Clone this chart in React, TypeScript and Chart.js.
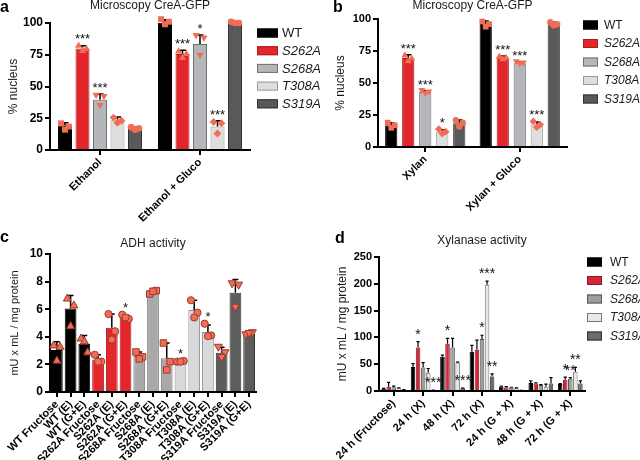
import React, { useEffect, useRef } from "react";
import { Chart, registerables } from "chart.js";

Chart.register(...registerables);
Chart.defaults.font.family = "'Liberation Sans', Arial, Helvetica, sans-serif";
Chart.defaults.color = "#000";

// ---------------- shared
const GENOTYPES = ["WT", "S262A", "S268A", "T308A", "S319A"];
const LEGEND_ITALIC = [false, true, true, true, true];

// ---------------- panel a
const A_CATEGORIES = ["Ethanol", "Ethanol + Gluco"];
const A_MEANS = [
  [19, 100.5],
  [80, 75.5],
  [39.5, 83.5],
  [23.5, 18.5],
  [17, 99.8],
];
const A_SD = [
  [2.5, 2],
  [2, 3],
  [4.5, 7],
  [2.5, 4.5],
  [1, 1],
];
const A_REPS = [
  [[21, 18.5, 16], [103, 101, 99]],
  [[82.5, 80, 78.5], [78, 76, 73]],
  [[43, 42, 35], [90, 88, 74.5]],
  [[25.5, 23, 21.5], [22, 21, 13]],
  [[18, 17, 16], [101, 100, 100]],
];
const A_STARS = [
  ["", ""],
  ["***", "***"],
  ["***", "*"],
  ["", "***"],
  ["", ""],
];

// ---------------- panel b
const B_CATEGORIES = ["Xylan", "Xylan + Gluco"];
const B_MEANS = [
  [17, 96],
  [69.5, 70],
  [43, 65.5],
  [12, 17.5],
  [18.5, 96],
];
const B_SD = [
  [2, 2.5],
  [2.5, 1],
  [1, 1],
  [1.5, 2],
  [2.5, 1.5],
];
const B_REPS = [
  [[19, 17, 15], [98, 96, 94]],
  [[72, 69.5, 67.5], [71, 70, 69]],
  [[44, 43, 42], [66.5, 65.5, 65]],
  [[14, 12, 10.5], [20, 17.5, 15.5]],
  [[21, 19, 16], [97.5, 96, 95]],
];
const B_STARS = [
  ["", ""],
  ["***", "***"],
  ["***", "***"],
  ["*", "***"],
  ["", ""],
];

// ---------------- panel c
const C_LABELS = [
  "WT Fructose", "WT (E)", "WT (G+E)",
  "S262A Fructose", "S262A (E)", "S262A (G+E)",
  "S268A Fructose", "S268A (E)", "S268A (G+E)",
  "T308A Fructose", "T308A (E)", "T308A (G+E)",
  "S319A Fructose", "S319A (E)", "S319A (G+E)",
];
const C_MEANS = [3.05, 6.05, 3.5, 2.35, 4.65, 5.45, 2.6, 7.3, 2.45, 2.2, 5.95, 4.35, 2.85, 7.2, 4.25];
const C_SD = [0.6, 0.95, 0.6, 0.35, 1.0, 0.15, 0.3, 0.15, 1.1, 0.05, 0.7, 0.5, 0.4, 0.95, 0.1];
const C_REPS = [
  [3.4, 3.3, 2.3], [6.8, 6.3, 4.8], [3.9, 2.9, 3.7],
  [2.7, 2.2, 2.2], [5.65, 4.4, 3.8], [5.6, 5.3, 5.4],
  [2.9, 2.55, 2.4], [7.1, 7.35, 7.3], [3.55, 2.2, 1.6],
  [2.2, 2.25, 2.2], [6.65, 5.75, 5.4], [4.95, 4.1, 4.05],
  [3.25, 2.85, 2.5], [7.85, 7.75, 6.15], [4.15, 4.3, 4.25],
];
const C_STARS = ["", "", "", "", "", "*", "", "", "", "*", "", "*", "", "", ""];

// ---------------- panel d
const D_CATEGORIES = ["24 h (Fructose)", "24 h (X)", "48 h (X)", "72 h (X)", "24 h (G + X)", "48 h (G + X)", "72 h (G + X)"];
const D_MEANS = [
  [4, 45, 64, 73, 8, 15, 13],
  [8, 81, 88, 77, 7, 14, 21],
  [7, 44, 81, 97, 6, 11, 23],
  [5, 34, 53, 198, 5, 8, 36],
  [2, 1, 5, 27, 1, 14, 14],
];
const D_SD = [
  [1, 6, 3, 12, 1, 4, 1],
  [8, 11, 10, 18, 1, 1, 5],
  [2, 9, 17, 7, 1, 1, 2],
  [1, 8, 1, 7, 1, 5, 8],
  [0.5, 0.5, 0.5, 5, 0.3, 11, 5],
];
const D_STARS = [
  ["", "", "", "", "", "", ""],
  ["", "*", "*", "", "", "", "*"],
  ["", "", "", "*", "", "", "**"],
  ["", "", "", "***", "", "", "**"],
  ["", "***", "***", "**", "", "", ""],
];

// ---------------- styles
const AB_COLORS = ["#000000", "#e3262b", "#b5b6b9", "#dedede", "#58595b"];
const AB_BORDERS = ["#000000", "#a81c20", "#6f7073", "#9a9a9a", "#333333"];
const C_COLORS = ["#000000", "#e3262b", "#a9a9a9", "#d7d9db", "#5d5d5d"];
const C_BORDERS = ["#000000", "#a81c20", "#777777", "#8e8e8e", "#333333"];
const D_COLORS = ["#000000", "#d3263b", "#9d9d9d", "#e8e8e8", "#6b6b6b"];
const D_BORDERS = ["#000000", "#8a1a26", "#555555", "#777777", "#333333"];
const AB_SHAPES = ["rect", "triangle", "invtriangle", "diamond", "circle"];
const C_SHAPES = ["triangle", "circle", "rect", "circle", "invtriangle"];
const POINT_FILL = "#f26d55";

type LegendCfg = {
  x: number; y: number; gap: number; boxW: number; boxH: number; textX: number; size: number;
  colors: string[]; borders: string[];
};
type DecorCfg = {
  label: string; labelX: number; labelY: number;
  sd: number[][];
  reps?: number[][][];
  shape?: (d: number, i: number) => string;
  stars: string[][];
  starSize: number;
  starGap: number;
  errWidth: number;
  capFrac: number;
  pointR: number;
  pointStroke?: string;
  jitter: number[];
  legend?: LegendCfg;
};

function drawShape(ctx: CanvasRenderingContext2D, shape: string, x: number, y: number, r: number) {
  ctx.beginPath();
  if (shape === "circle") {
    ctx.arc(x, y, r, 0, Math.PI * 2);
  } else if (shape === "rect") {
    ctx.rect(x - r * 0.9, y - r * 0.9, r * 1.8, r * 1.8);
  } else if (shape === "triangle") {
    ctx.moveTo(x, y - r * 1.15);
    ctx.lineTo(x + r * 1.1, y + r * 0.8);
    ctx.lineTo(x - r * 1.1, y + r * 0.8);
    ctx.closePath();
  } else if (shape === "invtriangle") {
    ctx.moveTo(x, y + r * 1.15);
    ctx.lineTo(x + r * 1.1, y - r * 0.8);
    ctx.lineTo(x - r * 1.1, y - r * 0.8);
    ctx.closePath();
  } else {
    ctx.moveTo(x, y - r * 1.2);
    ctx.lineTo(x + r * 1.2, y);
    ctx.lineTo(x, y + r * 1.2);
    ctx.lineTo(x - r * 1.2, y);
    ctx.closePath();
  }
}

function makeDecor(cfg: DecorCfg) {
  return {
    id: "decor",
    afterDatasetsDraw(chart: any) {
      const ctx: CanvasRenderingContext2D = chart.ctx;
      const ys = chart.scales.y;
      ctx.save();
      chart.data.datasets.forEach((ds: any, d: number) => {
        const meta = chart.getDatasetMeta(d);
        meta.data.forEach((bar: any, i: number) => {
          const mean = ds.data[i];
          const sd = cfg.sd[d][i];
          const cx = bar.x;
          const w = bar.width;
          const top = ys.getPixelForValue(mean);
          const yErr = ys.getPixelForValue(mean + sd);
          if (sd > 0) {
            ctx.strokeStyle = "#000";
            ctx.lineWidth = cfg.errWidth;
            ctx.beginPath();
            ctx.moveTo(cx, top);
            ctx.lineTo(cx, yErr);
            ctx.moveTo(cx - (w * cfg.capFrac) / 2, yErr);
            ctx.lineTo(cx + (w * cfg.capFrac) / 2, yErr);
            ctx.stroke();
          }
          if (cfg.reps && cfg.shape) {
            const reps = cfg.reps[d][i];
            const shape = cfg.shape(d, i);
            reps.forEach((v, k) => {
              const px = cx + cfg.jitter[k % cfg.jitter.length] * w;
              const py = ys.getPixelForValue(v);
              drawShape(ctx, shape, px, py, cfg.pointR);
              ctx.fillStyle = POINT_FILL;
              ctx.fill();
              if (cfg.pointStroke) {
                ctx.strokeStyle = cfg.pointStroke;
                ctx.lineWidth = 1;
                ctx.stroke();
              }
            });
          }
        });
      });
      chart.data.datasets.forEach((ds: any, d: number) => {
        const meta = chart.getDatasetMeta(d);
        meta.data.forEach((bar: any, i: number) => {
          const s = cfg.stars[d][i];
          if (!s) return;
          const mean = ds.data[i];
          const sd = cfg.sd[d][i];
          let topVal = mean + sd;
          if (cfg.reps) topVal = Math.max(topVal, ...cfg.reps[d][i]);
          const yTop = ys.getPixelForValue(topVal);
          ctx.fillStyle = "#111";
          ctx.font = `${cfg.starSize}px 'Liberation Sans', Arial, sans-serif`;
          ctx.textAlign = "center";
          ctx.textBaseline = "alphabetic";
          ctx.fillText(s, bar.x, yTop - cfg.starGap);
        });
      });
      ctx.restore();
    },
    afterDraw(chart: any) {
      const ctx: CanvasRenderingContext2D = chart.ctx;
      ctx.save();
      ctx.fillStyle = "#000";
      ctx.font = "bold 16px 'Liberation Sans', Arial, sans-serif";
      ctx.textAlign = "left";
      ctx.textBaseline = "alphabetic";
      ctx.fillText(cfg.label, cfg.labelX, cfg.labelY);
      const L = cfg.legend;
      if (L) {
        GENOTYPES.forEach((g, k) => {
          const y = L.y + k * L.gap;
          ctx.fillStyle = L.colors[k];
          ctx.fillRect(L.x, y - L.boxH / 2, L.boxW, L.boxH);
          ctx.strokeStyle = L.borders[k];
          ctx.lineWidth = 1;
          ctx.strokeRect(L.x + 0.5, y - L.boxH / 2 + 0.5, L.boxW - 1, L.boxH - 1);
          ctx.fillStyle = "#1a1a1a";
          ctx.font = `${LEGEND_ITALIC[k] ? "italic " : ""}${L.size}px 'Liberation Sans', Arial, sans-serif`;
          ctx.textBaseline = "middle";
          ctx.fillText(g, L.textX, y + 0.5);
        });
      }
      ctx.restore();
    },
  };
}

function yScale(max: number, step: number, title: string, width: number, titlePad: number, tickSize: number, titleSize: number) {
  return {
    min: 0,
    max,
    ticks: { stepSize: step, font: { size: tickSize, weight: "bold" }, color: "#000", padding: 2 },
    grid: { drawOnChartArea: false, drawTicks: true, tickLength: 5, color: "#000", lineWidth: 2 },
    border: { display: true, color: "#000", width: 2 },
    title: { display: true, text: title, font: { size: titleSize }, color: "#1a1a1a", padding: { top: titlePad, bottom: 0 } },
    afterFit: (s: any) => { s.width = width; },
  };
}

function xScale(height: number, fontSize: number) {
  return {
    offset: true,
    ticks: { autoSkip: false, minRotation: 45, maxRotation: 45, font: { size: fontSize, weight: "bold" }, color: "#000", padding: 1 },
    grid: { offset: false, drawOnChartArea: false, drawTicks: true, tickLength: 5, color: "#000", lineWidth: 2 },
    border: { display: true, color: "#000", width: 2 },
    afterFit: (s: any) => { s.height = height; },
  };
}

function titleOpt(text: string, top: number, bottom: number) {
  return {
    display: true,
    text,
    fullSize: false,
    color: "#1a1a1a",
    font: { size: 12, weight: "normal", lineHeight: 1 },
    padding: { top, bottom },
  };
}

const JITTER = [-0.28, 0.28, 0];

function buildA() {
  return {
    type: "bar",
    data: {
      labels: A_CATEGORIES,
      datasets: GENOTYPES.map((g, d) => ({
        label: g,
        data: A_MEANS[d],
        backgroundColor: AB_COLORS[d],
        borderColor: AB_BORDERS[d],
        borderWidth: 1,
        categoryPercentage: 0.875,
        barPercentage: 0.8,
      })),
    },
    options: {
      responsive: false,
      animation: false,
      layout: { padding: { left: 0, right: 70, top: 0, bottom: 0 } },
      plugins: {
        legend: { display: false },
        tooltip: { enabled: false },
        title: titleOpt("Microscopy CreA-GFP", 0, 11),
      },
      scales: {
        x: xScale(80, 11),
        y: yScale(100, 25, "% nucleus", 50, 6, 12, 12),
      },
    },
    plugins: [
      makeDecor({
        label: "a", labelX: 0, labelY: 12,
        sd: A_SD, reps: A_REPS, shape: (d) => AB_SHAPES[d], stars: A_STARS,
        starSize: 13, starGap: 2, errWidth: 1.5, capFrac: 0.5, pointR: 3.3, jitter: JITTER,
        legend: { x: 257, y: 33, gap: 17.7, boxW: 21, boxH: 9, textX: 282, size: 13, colors: AB_COLORS, borders: AB_BORDERS },
      }),
    ],
  };
}

function buildB() {
  return {
    type: "bar",
    data: {
      labels: B_CATEGORIES,
      datasets: GENOTYPES.map((g, d) => ({
        label: g,
        data: B_MEANS[d],
        backgroundColor: AB_COLORS[d],
        borderColor: AB_BORDERS[d],
        borderWidth: 1,
        categoryPercentage: 0.9,
        barPercentage: 0.72,
      })),
    },
    options: {
      responsive: false,
      animation: false,
      layout: { padding: { left: 0, right: 73, top: 0, bottom: 0 } },
      plugins: {
        legend: { display: false },
        tooltip: { enabled: false },
        title: titleOpt("Microscopy CreA-GFP", 0, 7),
      },
      scales: {
        x: xScale(83, 11),
        y: yScale(100, 25, "% nucleus", 58, 13, 11, 12),
      },
    },
    plugins: [
      makeDecor({
        label: "b", labelX: 13, labelY: 12,
        sd: B_SD, reps: B_REPS, shape: (d) => AB_SHAPES[d], stars: B_STARS,
        starSize: 13, starGap: 2, errWidth: 1.5, capFrac: 0.5, pointR: 3.2, jitter: JITTER,
        legend: { x: 263, y: 25, gap: 18.5, boxW: 15, boxH: 9, textX: 284, size: 12, colors: AB_COLORS, borders: AB_BORDERS },
      }),
    ],
  };
}

function buildC() {
  return {
    type: "bar",
    data: {
      labels: C_LABELS,
      datasets: [
        {
          label: "ADH activity",
          data: C_MEANS,
          backgroundColor: C_LABELS.map((_, i) => C_COLORS[Math.floor(i / 3)]),
          borderColor: C_LABELS.map((_, i) => C_BORDERS[Math.floor(i / 3)]),
          borderWidth: 1,
          categoryPercentage: 0.95,
          barPercentage: 0.9,
        },
      ],
    },
    options: {
      responsive: false,
      animation: false,
      layout: { padding: { left: 0, right: 64, top: 0, bottom: 0 } },
      plugins: {
        legend: { display: false },
        tooltip: { enabled: false },
        title: titleOpt("ADH activity", 8, 4),
      },
      scales: {
        x: xScale(68, 11),
        y: yScale(10, 2, "mU x mL / mg protein", 50, 8, 12, 11),
      },
    },
    plugins: [
      makeDecor({
        label: "c", labelX: 0, labelY: 12,
        sd: [C_SD], reps: [C_REPS], shape: (_d, i) => C_SHAPES[Math.floor(i / 3)], stars: [C_STARS],
        starSize: 13, starGap: 2.5, errWidth: 1.5, capFrac: 0.5, pointR: 3.6, pointStroke: "#9b3a2e", jitter: JITTER,
      }),
    ],
  };
}

function buildD() {
  return {
    type: "bar",
    data: {
      labels: D_CATEGORIES,
      datasets: GENOTYPES.map((g, d) => ({
        label: g,
        data: D_MEANS[d],
        backgroundColor: D_COLORS[d],
        borderColor: D_BORDERS[d],
        borderWidth: 1,
        categoryPercentage: 0.86,
        barPercentage: 0.9,
      })),
    },
    options: {
      responsive: false,
      animation: false,
      layout: { padding: { left: 0, right: 55, top: 0, bottom: 0 } },
      plugins: {
        legend: { display: false },
        tooltip: { enabled: false },
        title: titleOpt("Xylanase activity", 5, 10),
      },
      scales: {
        x: xScale(69, 11),
        y: yScale(250, 50, "mU x mL / mg protein", 59, 15, 11, 12),
      },
    },
    plugins: [
      makeDecor({
        label: "d", labelX: 15, labelY: 13,
        sd: D_SD, stars: D_STARS,
        starSize: 14, starGap: 3, errWidth: 1.2, capFrac: 0.7, pointR: 3, jitter: JITTER,
        legend: { x: 267, y: 32, gap: 18.5, boxW: 15, boxH: 9, textX: 290, size: 12, colors: D_COLORS, borders: D_BORDERS },
      }),
    ],
  };
}

function Panel({ left, top, build }: { left: number; top: number; build: () => any }) {
  const ref = useRef<HTMLCanvasElement>(null);
  useEffect(() => {
    const chart = new Chart(ref.current as HTMLCanvasElement, build());
    return () => chart.destroy();
  }, []);
  return (
    <canvas
      ref={ref}
      width={320}
      height={230}
      style={{ position: "absolute", left, top, width: 320, height: 230, display: "block" }}
    />
  );
}

export default function App() {
  return (
    <div style={{ position: "absolute", left: 0, top: 0, width: 640, height: 460, background: "#fff", overflow: "hidden" }}>
      <Panel left={0} top={0} build={buildA} />
      <Panel left={320} top={0} build={buildB} />
      <Panel left={0} top={230} build={buildC} />
      <Panel left={320} top={230} build={buildD} />
    </div>
  );
}
